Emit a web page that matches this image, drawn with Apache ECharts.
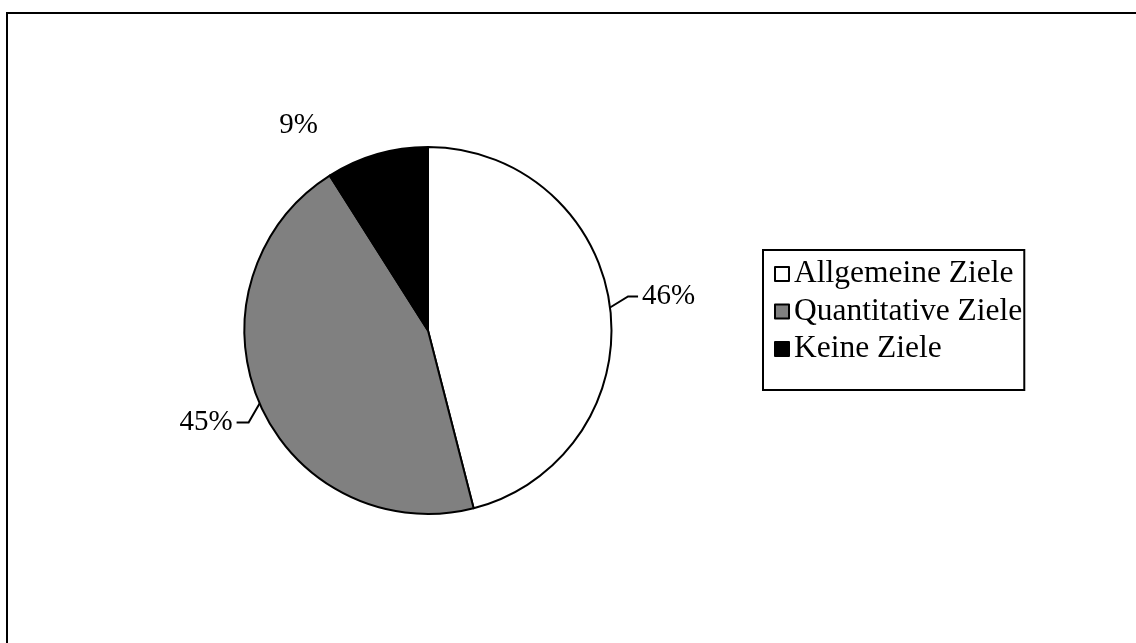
<!DOCTYPE html>
<html>
<head>
<meta charset="utf-8">
<style>
  html, body { margin: 0; padding: 0; background: #fff; }
  #chart { width: 1136px; height: 643px; }
</style>
<script src="https://cdn.jsdelivr.net/npm/echarts@6/dist/echarts.min.js"></script>
</head>
<body>
<div id="chart"></div>
<script>
// Survey result: what kind of targets the respondents set
const categories = ['Allgemeine Ziele', 'Quantitative Ziele', 'Keine Ziele'];
const shares = [46, 45, 9];
const sliceColors = ['#ffffff', '#808080', '#000000'];

const FONT = '"Liberation Serif", "Times New Roman", serif';

// Offsets of each outside label (and its leader line bends) from the slice's outer mid point
const labelOffsets = [
  { bend: [18, -11], end: [28, -11], text: [32, -11], align: 'left' },
  { bend: [-11, 19], end: [-23, 19], text: [-27, 19], align: 'right' },
  { bend: [0, 0], end: [0, 0], text: [-59, -29], align: 'right' }
];

const pieCenter = [428, 330.5];
const pieRadius = 183.5;

// Fallback: outer mid point of a slice, computed from the shares
function sliceEdgePoint(i) {
  const total = shares.reduce((a, b) => a + b, 0);
  let before = 0;
  for (let k = 0; k < i; k++) before += shares[k];
  const mid = (before + shares[i] / 2) / total * 2 * Math.PI;
  return [pieCenter[0] + pieRadius * Math.sin(mid), pieCenter[1] - pieRadius * Math.cos(mid)];
}

const chart = echarts.init(document.getElementById('chart'), null, { renderer: 'canvas' });

chart.setOption({
  animation: false,
  backgroundColor: '#ffffff',
  textStyle: { fontFamily: FONT },
  graphic: [{
    type: 'rect',
    silent: true,
    shape: { x: 7, y: 13, width: 1200, height: 700 },
    style: { fill: 'none', stroke: '#000000', lineWidth: 2 }
  }],
  legend: {
    orient: 'vertical',
    left: 763,
    top: 250,
    data: categories,
    icon: 'rect',
    itemWidth: 14,
    itemHeight: 14,
    itemGap: 5.5,
    padding: [8, 2, 25, 11],
    borderColor: '#000000',
    borderWidth: 2,
    backgroundColor: '#ffffff',
    selectedMode: false,
    textStyle: {
      fontFamily: FONT,
      fontSize: 31.5,
      lineHeight: 32,
      color: '#000000'
    }
  },
  series: [{
    type: 'pie',
    center: pieCenter,
    radius: pieRadius,
    startAngle: 90,
    clockwise: true,
    avoidLabelOverlap: false,
    silent: true,
    itemStyle: { borderColor: '#000000', borderWidth: 2 },
    label: {
      show: true,
      position: 'outside',
      formatter: '{c}%',
      fontFamily: FONT,
      fontSize: 29,
      color: '#000000'
    },
    labelLine: {
      show: true,
      length: 12,
      length2: 10,
      lineStyle: { color: '#000000', width: 2 }
    },
    labelLayout: function (params) {
      const i = params.dataIndex;
      const off = labelOffsets[i];
      const pts = params.labelLinePoints;
      const o = pts && pts[0] ? pts[0] : sliceEdgePoint(i);
      return {
        x: o[0] + off.text[0],
        y: o[1] + off.text[1],
        align: off.align,
        verticalAlign: 'middle',
        labelLinePoints: [
          [o[0], o[1]],
          [o[0] + off.bend[0], o[1] + off.bend[1]],
          [o[0] + off.end[0], o[1] + off.end[1]]
        ]
      };
    },
    data: categories.map((name, i) => ({
      name: name,
      value: shares[i],
      itemStyle: { color: sliceColors[i] },
      labelLine: i === 2 ? { lineStyle: { opacity: 0 } } : undefined
    }))
  }]
});
</script>
</body>
</html>
